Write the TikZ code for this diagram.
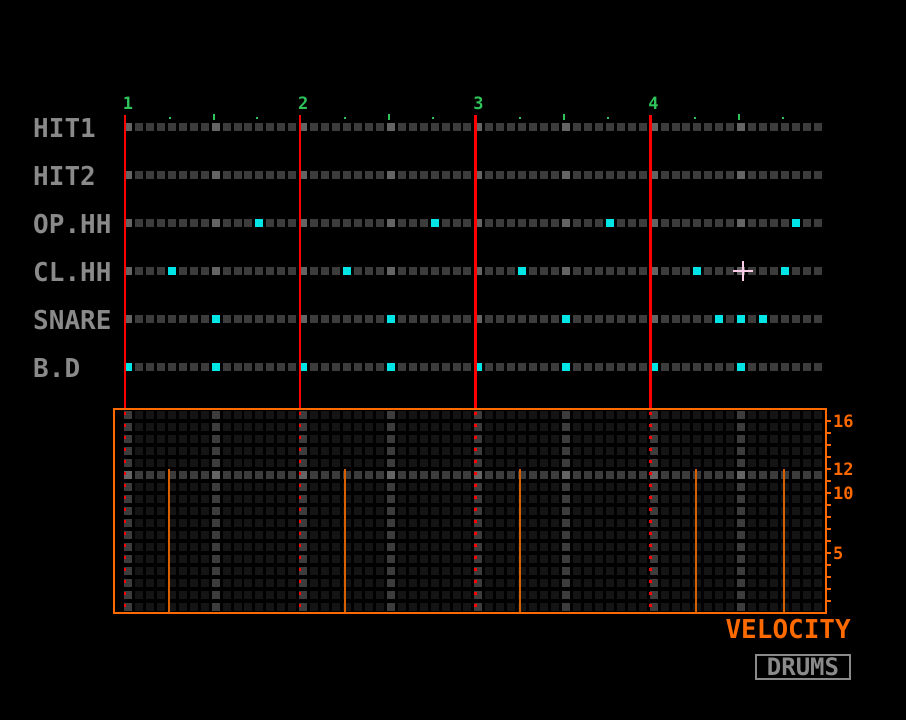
\documentclass[tikz,border=0pt]{standalone}
\usepackage{fontspec}
\setmonofont{DejaVu Sans Mono}
\definecolor{sqdark}{HTML}{3C3C3C}
\definecolor{sqlight}{HTML}{646464}
\definecolor{sqvel}{HTML}{141414}
\definecolor{hitcyan}{HTML}{00E5E5}
\definecolor{velorange}{HTML}{FF6A00}
\definecolor{barorange}{HTML}{D86000}
\definecolor{rulegreen}{HTML}{2EC45A}
\definecolor{labelgrey}{HTML}{8A8A8A}
\tikzset{
  lab/.style={anchor=west, text=labelgrey, font=\ttfamily\bfseries\fontsize{26}{26}\selectfont, inner sep=0pt},
  beatnum/.style={text=rulegreen, font=\ttfamily\bfseries\fontsize{17}{17}\selectfont, inner sep=0pt},
  vellab/.style={anchor=west, text=velorange, font=\ttfamily\bfseries\fontsize{17}{17}\selectfont, inner sep=0pt},
  beatline/.style={red, line width=2.5pt},
  velbar/.style={barorange, line width=2.5pt}
}
\begin{document}
\begin{tikzpicture}[x=1pt,y=-1pt]
\fill[black] (0,0) rectangle (906,720);
\useasboundingbox (0,0) rectangle (906,720);
% step squares of the six tracks
\foreach \r in {0,...,5} {
  \foreach \s in {0,...,63} {
    \pgfmathtruncatemacro{\m}{mod(\s,8)}
    \ifnum\m=0 \def\c{sqlight}\else\def\c{sqdark}\fi
    \fill[\c] (128+10.95*\s-4,127+48*\r-4) rectangle +(8,8);
  }
}
% velocity grid
\foreach \k in {0,...,16} {
  \foreach \s in {0,...,63} {
    \pgfmathtruncatemacro{\m}{mod(\s,8)}
    \ifnum\k=5 \ifnum\m=0 \def\c{sqlight}\else\def\c{sqdark}\fi
    \else \ifnum\m=0 \def\c{sqdark}\else\def\c{sqvel}\fi\fi
    \fill[\c] (128+10.95*\s-4,415+12*\k-4) rectangle +(8,8);
  }
}
% hits
\foreach \r/\steps in {2/{12,28,44,61}, 3/{4,20,36,52,60}, 4/{8,24,40,54,56,58}, 5/{0,8,16,24,32,40,48,56}} {
  \foreach \s in \steps
    \fill[hitcyan] (128+10.95*\s-4,127+48*\r-4) rectangle +(8,8);
}
% labels
\node (hit1) [lab] at (33,128) {HIT1};
\node (hit2) [lab] at (33,176) {HIT2};
\node (ophh) [lab] at (33,224) {OP.HH};
\node (clhh) [lab] at (33,272) {CL.HH};
\node (snare) [lab] at (33,320) {SNARE};
\node (bd) [lab] at (33,368) {B.D};
% ruler
\foreach \b in {0,...,3} {
  \node (beat\b) [beatnum] at (128+175.2*\b,103) {\the\numexpr\b+1\relax};
  \draw[beatline] (125+175.2*\b,115) -- (125+175.2*\b,409);
  \draw[beatline, dash pattern=on 3pt off 9pt] (125+175.2*\b,412) -- (125+175.2*\b,613);
  \fill[rulegreen] (212.6+175.2*\b,114) rectangle +(2,6);
  \fill[rulegreen] (168.8+175.2*\b,117) rectangle +(2,2);
  \fill[rulegreen] (256.4+175.2*\b,117) rectangle +(2,2);
}
% cursor
\draw[white!80!magenta, line width=2pt] (733,271) -- (753,271) (743,261) -- (743,281);
% velocity frame and bars
\foreach \x in {169,345,520,696,784}
  \draw[velbar] (\x,469) -- (\x,613);
\draw[velorange, line width=2.5pt] (114,409) rectangle (826,613);
\foreach \v in {1,...,16}
  \draw[velorange, line width=2pt] (826,613-12*\v) -- (831,613-12*\v);
\node (v16) [vellab] at (833,421) {16};
\node (v12) [vellab] at (833,469) {12};
\node (v10) [vellab] at (833,493) {10};
\node (v5) [vellab] at (833,553) {5};
\node (velocity) [anchor=east, text=velorange, font=\ttfamily\bfseries\fontsize{26}{26}\selectfont, inner sep=0pt] at (851,629) {VELOCITY};
\node (drums) [draw=labelgrey, line width=2.5pt, text=labelgrey, font=\ttfamily\bfseries\fontsize{24}{24}\selectfont, minimum width=94pt, minimum height=24pt, inner sep=0pt] at (803,667) {DRUMS};
\end{tikzpicture}
\end{document}
